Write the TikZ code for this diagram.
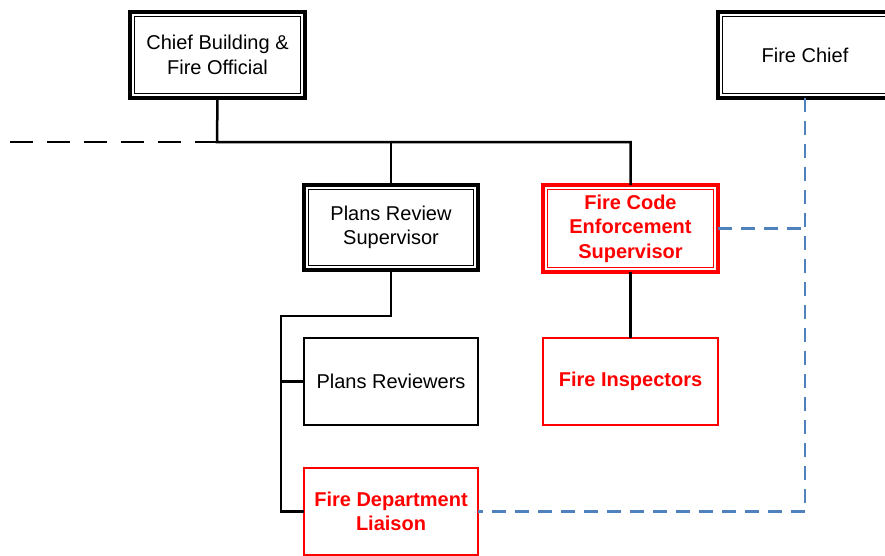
\documentclass[tikz,border=0pt]{standalone}
\usepackage{fontspec}
\setmainfont{Liberation Sans}
\definecolor{lineblue}{RGB}{79,129,189}
\definecolor{fred}{RGB}{255,0,0}
\tikzset{
  box/.style={draw, line width=2pt, inner sep=0pt, outer sep=0pt, align=center, font=\fontsize{20}{24.5}\selectfont, fill=white},
  redbox/.style={box, draw=fred, text=fred, font=\fontsize{20}{24.5}\selectfont\bfseries},
  link/.style={line width=2.5pt, line cap=butt},
  blackdash/.style={link, dash pattern=on 23pt off 14pt},
  bluedash/.style={link, draw=lineblue, dash pattern=on 14pt off 9pt},
}
\newcommand{\innerframe}[2]{\draw[line width=1.3pt,#2] ([shift={(4.8pt,-4.8pt)}]#1.north west) rectangle ([shift={(-4.8pt,4.8pt)}]#1.south east);}
\begin{document}
\begin{tikzpicture}[x=1pt,y=-1pt]
\useasboundingbox (0,0) rectangle (885,555);
\clip (0,0) rectangle (885,555);
% connectors
\coordinate (j) at (217,142);
\coordinate (dl) at (10,142);
\coordinate (b1) at (391,316);
\coordinate (b2) at (281,316);
% nodes
\node[box, line width=3.2pt, minimum width=175, minimum height=86] (cbf) at (217.5,55) {Chief Building \&\\Fire Official};
\node[box, line width=3.2pt, minimum width=174, minimum height=86] (fc) at (805,55) {Fire Chief};
\node[box, line width=3.2pt, minimum width=174, minimum height=85] (prs) at (391,227.5) {Plans Review\\Supervisor};
\node[redbox, line width=3.2pt, minimum width=175, minimum height=87] (fces) at (630.5,228.5) {Fire Code\\Enforcement\\Supervisor};
\node[box, minimum width=174, minimum height=87] (pr) at (391,381.5) {Plans Reviewers};
\node[redbox, minimum width=175, minimum height=87] (fi) at (630.5,381.5) {Fire Inspectors};
\node[redbox, minimum width=174, minimum height=87] (fdl) at (391,511.5) {Fire Department\\Liaison};
\innerframe{cbf}{black}
\innerframe{fc}{black}
\innerframe{prs}{black}
\innerframe{fces}{fred}
% links
\draw[link] (cbf.south) -- (j) -- (j -| fces.north) -- (fces.north);
\draw[link] (prs.north) -- (prs.north |- j);
\draw[blackdash] (dl) -- (j);
\draw[link] (prs.south) -- (b1) -- (b2) -- (b2 |- fdl.west) -- (fdl.west);
\draw[link] (b2 |- pr.west) -- (pr.west);
\draw[link] (fces.south) -- (fi.north);
\draw[bluedash] (fc.south) -- (fc.south |- fdl.east) -- (fdl.east);
\draw[bluedash] (fces.east) -- (fces.east -| fc.south);
\end{tikzpicture}
\end{document}
